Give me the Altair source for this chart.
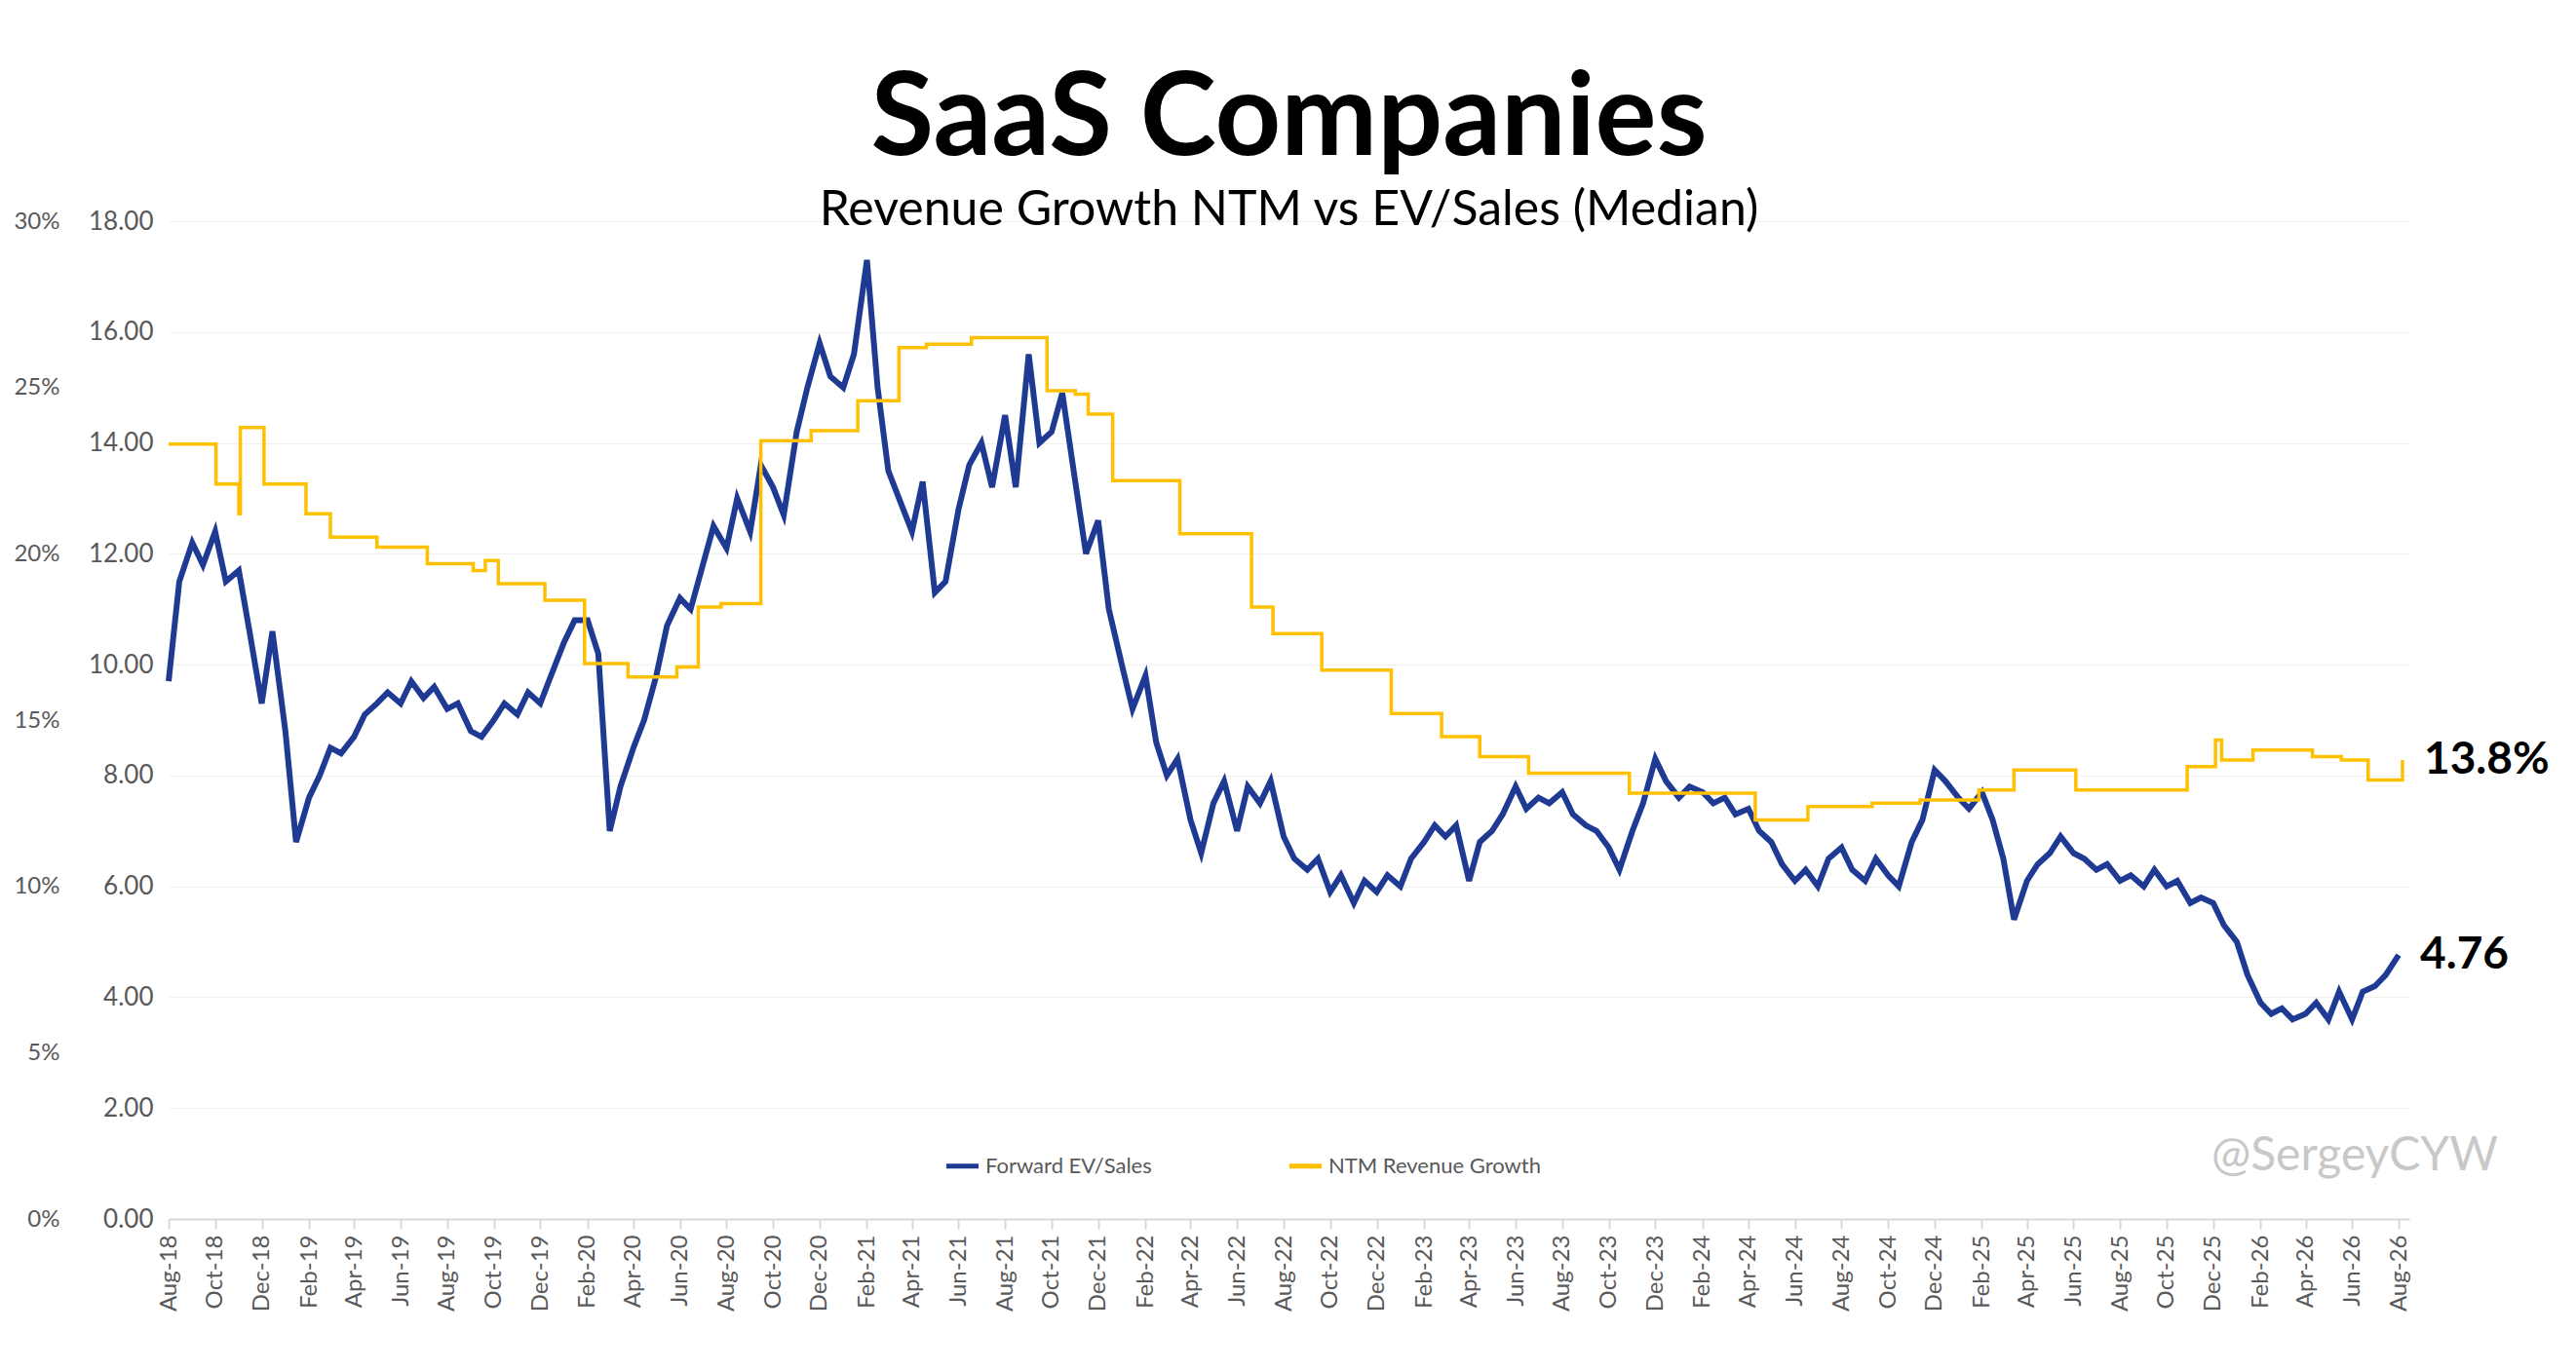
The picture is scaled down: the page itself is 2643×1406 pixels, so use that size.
import pandas as pd
import altair as alt

# Forward EV/Sales, two readings per month (1st and 16th), Aug-2018 .. Aug-2026
ev_sales = [
    9.7, 11.5, 12.2, 11.8, 12.4, 11.5, 11.7, 10.6, 9.3, 10.6,
    8.8, 6.8, 7.6, 8.0, 8.5, 8.4, 8.7, 9.1, 9.3, 9.5, 9.3, 9.7, 9.4, 9.6,
    9.2, 9.3, 8.8, 8.7, 9.0, 9.3, 9.1, 9.5, 9.3, 9.8,
    10.4, 10.8, 10.8, 10.2, 7.0, 7.8, 8.5, 9.0, 9.8, 10.7, 11.2, 11.0,
    11.8, 12.5, 12.1, 13.0, 12.4, 13.6, 13.2, 12.7, 14.2, 15.0, 15.8, 15.2,
    15.0, 15.6, 17.3, 15.0, 13.5, 13.0, 12.4, 13.3, 11.3, 11.5, 12.8, 13.6,
    14.0, 13.2, 14.5, 13.2, 15.6, 14.0, 14.2, 14.9, 13.3, 12.0, 12.6, 11.0,
    10.0, 9.2, 9.8, 8.6, 8.0, 8.3, 7.2, 6.6, 7.5, 7.9, 7.0, 7.8,
    7.5, 7.9, 6.9, 6.5, 6.3, 6.5, 5.9, 6.2, 5.7, 6.1, 5.9, 6.2,
    6.0, 6.5, 6.8, 7.1, 6.9, 7.1, 6.1, 6.8, 7.0, 7.3, 7.8, 7.4,
    7.6, 7.5, 7.7, 7.3, 7.1, 7.0, 6.7, 6.3, 7.0, 7.5, 8.3, 7.9,
    7.6, 7.8, 7.7, 7.5, 7.6, 7.3, 7.4, 7.0, 6.8, 6.4, 6.1, 6.3,
    6.0, 6.5, 6.7, 6.3, 6.1, 6.5, 6.2, 6.0, 6.8, 7.2, 8.1, 7.9,
    7.6, 7.4, 7.7, 7.2, 6.5, 5.4, 6.1, 6.4, 6.6, 6.9, 6.6, 6.5,
    6.3, 6.4, 6.1, 6.2, 6.0, 6.3, 6.0, 6.1, 5.7, 5.8, 5.7, 5.3,
    5.0, 4.4, 3.9, 3.7, 3.8, 3.6, 3.7, 3.9, 3.6, 4.1, 3.6, 4.1,
    4.2, 4.4, 4.76,
]

# NTM revenue growth (%), step changes
growth_dates = [
    "2018-08-01", "2018-10-02", "2018-11-01", "2018-11-03", "2018-12-04",
    "2019-01-28", "2019-03-01", "2019-05-01", "2019-07-06", "2019-09-04",
    "2019-09-20", "2019-10-07", "2019-12-07", "2020-01-28", "2020-03-25",
    "2020-05-28", "2020-06-25", "2020-07-25", "2020-09-15", "2020-11-20",
    "2021-01-20", "2021-03-15", "2021-04-20", "2021-06-18", "2021-09-25",
    "2021-11-01", "2021-11-18", "2021-12-20", "2022-03-18", "2022-06-20",
    "2022-07-18", "2022-09-20", "2022-12-20", "2023-02-24", "2023-04-15",
    "2023-06-18", "2023-10-28", "2024-04-10", "2024-06-18", "2024-09-10",
    "2024-11-12", "2025-01-28", "2025-03-15", "2025-06-04", "2025-08-25",
    "2025-10-28", "2025-12-04", "2025-12-12", "2026-01-22", "2026-04-10",
    "2026-05-18", "2026-06-22", "2026-07-22", "2026-08-06",
]
growth_pct = [
    23.3, 22.1, 21.2, 23.8, 22.1,
    21.2, 20.5, 20.2, 19.7, 19.5,
    19.8, 19.1, 18.6, 16.7, 16.3,
    16.6, 18.4, 18.5, 23.4, 23.7,
    24.6, 26.2, 26.3, 26.5, 24.9,
    24.8, 24.2, 22.2, 20.6, 18.4,
    17.6, 16.5, 15.2, 14.5, 13.9,
    13.4, 12.8, 12.0, 12.4, 12.5,
    12.6, 12.9, 13.5, 12.9, 12.9,
    13.6, 14.4, 13.8, 14.1, 13.9,
    13.8, 13.2, 13.2, 13.8,
]

tick_dates = [d.isoformat() for d in pd.date_range("2018-08-01", "2026-08-01", freq="2MS").date]

ev_df = pd.DataFrame({
    "date": pd.date_range("2018-08-01", periods=len(ev_sales), freq="SMS"),
    "value": ev_sales,
    "series": "Forward EV/Sales",
})
gr_df = pd.DataFrame({
    "date": pd.to_datetime(growth_dates),
    "value": [g / 100 for g in growth_pct],
    "series": "NTM Revenue Growth",
})

FONT = "Lato"
color = alt.Color(
    "series:N",
    scale=alt.Scale(domain=["Forward EV/Sales", "NTM Revenue Growth"],
                    range=["#1F3A93", "#FFC000"]),
    legend=alt.Legend(title=None, orient="none", legendX=795, legendY=950,
                      direction="horizontal", symbolType="stroke",
                      symbolStrokeWidth=5, symbolSize=1100, labelFontSize=22,
                      labelFont=FONT, labelColor="#595959", columnPadding=130,
                      labelLimit=0),
)
x_enc = alt.X(
    "date:T", title=None,
    scale=alt.Scale(domain=["2018-08-01", "2026-08-15"]),
    axis=alt.Axis(format="%b-%y", labelAngle=270, labelFontSize=24,
                  labelColor="#595959", labelFont=FONT, values=tick_dates,
                  grid=False, domainColor="#d9d9d9", domainWidth=2,
                  tickColor="#d9d9d9", tickWidth=2, tickSize=10, labelPadding=6),
)

ev_line = alt.Chart(ev_df).mark_line(strokeWidth=6).encode(
    x=x_enc,
    y=alt.Y("value:Q", title=None, scale=alt.Scale(domain=[0, 18]),
            axis=alt.Axis(values=list(range(0, 19, 2)), format=".2f",
                          labelFontSize=26, labelColor="#595959", labelFont=FONT,
                          gridColor="#f0f0f0", domain=False, ticks=False,
                          labelPadding=16)),
    color=color,
)
gr_line = alt.Chart(gr_df).mark_line(strokeWidth=3.5, interpolate="step-after").encode(
    x=x_enc,
    y=alt.Y("value:Q", title=None, scale=alt.Scale(domain=[0, 0.30]),
            axis=alt.Axis(orient="left", offset=110, values=[0, .05, .10, .15, .20, .25, .30],
                          format=".0%", labelFontSize=24, labelColor="#595959",
                          labelFont=FONT, grid=False, domain=False, ticks=False)),
    color=color,
)

ev_label = alt.Chart(ev_df.tail(1)).mark_text(
    align="left", dx=22, fontSize=46, fontWeight="bold", font=FONT, color="black"
).encode(x="date:T", y="value:Q", text=alt.value("4.76"))
gr_label = alt.Chart(gr_df.tail(1)).mark_text(
    align="left", dx=22, fontSize=46, fontWeight="bold", font=FONT, color="black"
).encode(x="date:T", y="value:Q", text=alt.value("13.8%"))
watermark = alt.Chart(pd.DataFrame({"t": ["@SergeyCYW"]})).mark_text(
    align="right", fontSize=48, font=FONT, color="#c8c8c8"
).encode(x=alt.value(2390), y=alt.value(960), text="t:N")

chart = (
    alt.layer(alt.layer(ev_line, ev_label), alt.layer(gr_line, gr_label), watermark)
    .resolve_scale(y="independent")
    .properties(
        width=2627, height=1385,
        autosize=alt.AutoSizeParams(type="fit", contains="padding"),
        padding={"left": 5, "top": 57, "right": 20, "bottom": 47},
        title=alt.TitleParams(
            "SaaS Companies", subtitle="Revenue Growth NTM vs EV/Sales (Median)",
            anchor="middle", font=FONT, fontSize=118, fontWeight="bold",
            subtitleFont=FONT, subtitleFontSize=50, subtitleColor="black",
            offset=-28, subtitlePadding=7,
        ),
    )
    .configure_view(stroke=None)
)

chart.save("out.html", embed_options={"renderer": "svg", "actions": False})
